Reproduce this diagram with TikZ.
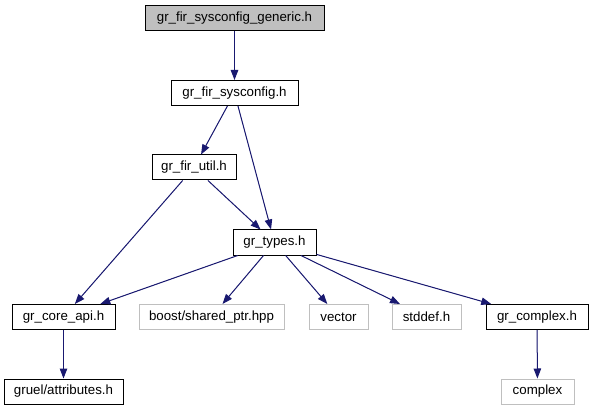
\documentclass[tikz,border=0pt]{standalone}
\usepackage{fontspec}
\setmainfont{Liberation Sans}
\usetikzlibrary{arrows.meta,positioning}
\definecolor{incedge}{HTML}{191970}
\definecolor{incgray}{HTML}{BFBFBF}
\tikzset{
  inc/.style={font=\fontsize{13.3}{16}\selectfont},
  incbox/.style={draw=black, line width=1pt, minimum height=25pt, inner sep=0pt, fill=white},
  increot/.style={incbox, fill=incgray},
  incext/.style={incbox, draw=incgray},
  incarr/.style={-{Triangle[length=10pt,width=7.5pt]}, line width=1pt, draw=incedge, fill=incedge},
}
\begin{document}
\begin{tikzpicture}[inc, x=1pt, y=-1pt]
  \useasboundingbox (0,0) rectangle (593,411);
  % header nodes
  \node[increot, minimum width=179pt] (gen) at (234.5,18.5) {gr\_fir\_sysconfig\_generic.h};
  \node[incbox, minimum width=127pt] (sys) at (234.5,93) {gr\_fir\_sysconfig.h};
  \node[incbox, minimum width=84pt] (util) at (194,167.5) {gr\_fir\_util.h};
  \node[incbox, minimum width=83pt] (types) at (274.5,242.5) {gr\_types.h};
  \node[incbox, minimum width=103pt] (core) at (63.5,317) {gr\_core\_api.h};
  \node[incext, minimum width=145pt] (boost) at (211.5,317) {boost/shared\_ptr.hpp};
  \node[incext, minimum width=59pt] (vector) at (338.5,317) {vector};
  \node[incext, minimum width=69pt] (stddef) at (426.5,317) {stddef.h};
  \node[incbox, minimum width=102pt] (cplxh) at (537,317) {gr\_complex.h};
  \node[incbox, minimum width=119pt] (gruel) at (63.5,391.5) {gruel/attributes.h};
  \node[incext, minimum width=73pt] (cplx) at (537.5,391.5) {complex};
  % include edges
  \draw[incarr] (gen) -- (sys);
  \draw[incarr] (sys) -- (util);
  \draw[incarr] (sys) -- (types);
  \draw[incarr] (util) -- (core);
  \draw[incarr] (util) -- (types);
  \draw[incarr] (types) -- (core);
  \draw[incarr] (types) -- (boost);
  \draw[incarr] (types) -- (vector);
  \draw[incarr] (types) -- (stddef);
  \draw[incarr] (types) -- (cplxh);
  \draw[incarr] (core) -- (gruel);
  \draw[incarr] (cplxh) -- (cplx);
\end{tikzpicture}
\end{document}
